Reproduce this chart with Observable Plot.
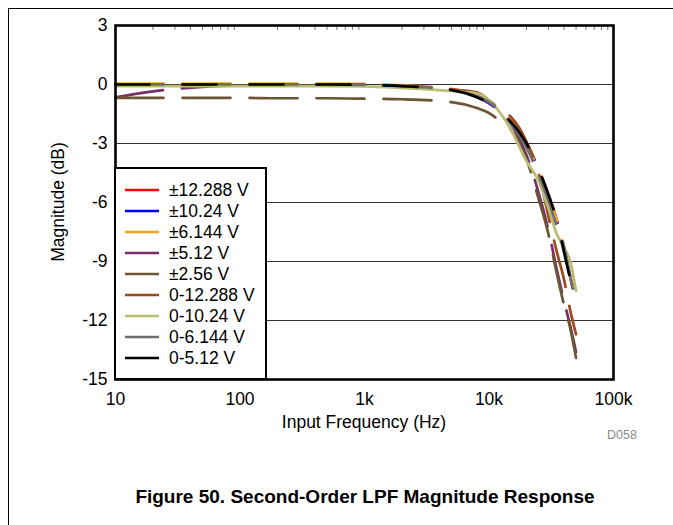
<!DOCTYPE html>
<html>
<head>
<meta charset="utf-8">
<script src="https://cdn.jsdelivr.net/npm/d3@7"></script>
<script src="https://cdn.jsdelivr.net/npm/@observablehq/plot@0.6"></script>
<style>
  html, body { margin: 0; padding: 0; background: #fff; }
  #wrap { position: relative; width: 673px; height: 525px; overflow: hidden; background: #fff;
          font-family: "Liberation Sans", Arial, sans-serif; color: #000; }
  #outer { position: absolute; left: 8px; top: 8px; width: 700px; height: 600px;
           border-left: 1px solid #000; border-top: 1px solid #000; }
  #chart { position: absolute; left: 0; top: 0; }
  .lbl { position: absolute; white-space: nowrap; }
  #legend { position: absolute; left: 114px; top: 167px; width: 153px; height: 213px; box-sizing: border-box;
            border: 2px solid #000; background: #fff; }
</style>
</head>
<body>
<div id="wrap">
  <div id="outer"></div>
  <div id="chart"></div>
  <div id="legend"></div>
  <div class="lbl" id="ylab" style="left:58px; top:202px; font-size:17.5px; transform: translate(-50%,-50%) rotate(-90deg);">Magnitude (dB)</div>
  <div class="lbl" id="xlab" style="left:364px; top:422px; font-size:17.5px; transform: translate(-50%,-50%);">Input Frequency (Hz)</div>
  <div class="lbl" id="code" style="left:622px; top:435px; font-size:12.5px; color:#8a8a8a; transform: translate(-50%,-50%);">D058</div>
  <div class="lbl" id="title" style="left:365px; top:497px; font-size:19px; font-weight:bold; transform: translate(-50%,-50%);">Figure 50. Second-Order LPF Magnitude Response</div>
</div>
<script>
// ---- data ----
const freq = [10, 20, 50, 100, 200, 500, 1000, 2000, 5000, 8000, 10000, 12500, 15000, 20000, 25000, 30000, 35000, 40000, 45000, 50000];

const seriesNames = ["±12.288 V", "±10.24 V", "±6.144 V", "±5.12 V", "±2.56 V", "0-12.288 V", "0-10.24 V", "0-6.144 V", "0-5.12 V"];
const seriesColors = ["#FF0000", "#0000FF", "#FFA21A", "#7A2E6B", "#6B5532", "#9C4A1C", "#B9BC71", "#6E6E6E", "#000000"];

const bip12288 = [0, 0, 0, 0, 0, 0, -0.02, -0.08, -0.28, -0.62, -0.95, -1.4, -1.9, -3.0, -4.3, -5.6, -6.9, -8.4, -9.8, -10.9];
const bip1024  = [0, 0, 0, 0, 0, 0, -0.02, -0.08, -0.28, -0.62, -0.95, -1.4, -1.9, -3.0, -4.3, -5.6, -6.9, -8.4, -9.8, -10.9];
const bip6144  = [0.05, 0.05, 0.05, 0.05, 0.05, 0.05, 0.03, -0.04, -0.22, -0.55, -0.85, -1.3, -1.85, -3.0, -4.3, -5.6, -6.9, -8.4, -9.8, -10.9];
const bip512   = [-0.65, -0.35, -0.12, -0.05, -0.02, 0, -0.02, -0.08, -0.28, -0.6, -0.9, -1.4, -2.0, -3.6, -5.5, -7.4, -9.4, -11.0, -12.3, -13.6];
const bip256   = [-0.68, -0.68, -0.68, -0.68, -0.7, -0.7, -0.72, -0.75, -0.9, -1.2, -1.45, -1.9, -2.3, -3.8, -5.8, -7.6, -9.6, -11.2, -12.4, -13.9];
const uni12288 = [0, 0, 0, 0, 0, 0, -0.02, -0.08, -0.25, -0.4, -0.8, -1.3, -1.65, -2.9, -4.5, -6.7, -8.5, -9.9, -11.5, -12.7];
const uni1024  = [-0.08, -0.08, -0.08, -0.08, -0.08, -0.08, -0.1, -0.18, -0.33, -0.45, -0.8, -1.5, -2.3, -3.9, -4.9, -6.3, -7.6, -8.3, -9.0, -10.5];
const uni6144  = [0, 0, 0, 0, 0, 0, -0.02, -0.08, -0.3, -0.6, -0.9, -1.4, -2.0, -3.2, -4.6, -5.9, -7.2, -8.2, -9.8, -11.3];
const uni512   = [0, 0, 0, 0, 0, 0, -0.02, -0.08, -0.28, -0.65, -0.95, -1.4, -1.9, -3.0, -4.3, -5.6, -6.9, -8.5, -9.9, -10.9];

const seriesValues = [bip12288, bip1024, bip6144, bip512, bip256, uni12288, uni1024, uni6144, uni512];
const seriesDash = ["48,19", "48,19", "48,19", "48,19", "48,19", "48,19", null, "48,19", "34,33"];

const xTicks = [10, 100, 1000, 10000, 100000];
const xTickLabels = ["10", "100", "1k", "10k", "100k"];
const yTicks = [3, 0, -3, -6, -9, -12, -15];
const gridTicks = [0, -3, -6, -9, -12];

// ---- build ----
const rows = [];
seriesNames.forEach((s, i) => freq.forEach((f, j) => rows.push({s, f, v: seriesValues[i][j]})));

const minorTicks = [];
for (let d = 10; d < 100000; d *= 10) for (let k = 2; k <= 9; k++) minorTicks.push(d * k);

const lineMarks = seriesNames.map((s, i) =>
  Plot.line(rows.filter(r => r.s === s), {
    x: "f", y: "v", stroke: seriesColors[i], strokeWidth: 2.7,
    strokeDasharray: seriesDash[i] || undefined, curve: "monotone-x"
  })
);

const chart = Plot.plot({
  width: 673, height: 445,
  marginLeft: 115, marginRight: 60, marginTop: 25, marginBottom: 66,
  x: {type: "log", domain: [10, 100000]},
  y: {domain: [-15, 3]},
  style: {fontFamily: "'Liberation Sans', Arial, sans-serif", fontSize: "17.5px", color: "#000", background: "transparent", overflow: "visible"},
  marks: [
    Plot.gridY(gridTicks, {stroke: "#000", strokeOpacity: 0.8, strokeWidth: 1}),
    Plot.axisX(xTicks, {tickSize: 0, tickPadding: 13, tickFormat: d => xTickLabels[xTicks.indexOf(d)], label: null, fontSize: 17.5}),
    Plot.axisX(minorTicks, {anchor: "top", tickSize: -4, tickFormat: () => "", label: null, stroke: "#777"}),
    Plot.axisY(yTicks, {tickSize: 0, tickPadding: 8, label: null, fontSize: 17.5, tickFormat: d => String(d)}),
    ...lineMarks,
    Plot.frame({stroke: "#000", strokeWidth: 2.6})
  ]
});
document.getElementById("chart").appendChild(chart);

// ---- legend ----
const ns = "http://www.w3.org/2000/svg";
const lsvg = document.createElementNS(ns, "svg");
lsvg.setAttribute("width", 149); lsvg.setAttribute("height", 209);
seriesNames.forEach((s, i) => {
  const y = 21 + i * 21;
  const ln = document.createElementNS(ns, "line");
  ln.setAttribute("x1", 9); ln.setAttribute("x2", 43); ln.setAttribute("y1", y); ln.setAttribute("y2", y);
  ln.setAttribute("stroke", seriesColors[i]); ln.setAttribute("stroke-width", 2.6);
  lsvg.appendChild(ln);
  const t = document.createElementNS(ns, "text");
  t.setAttribute("x", 53); t.setAttribute("y", y); t.setAttribute("dy", "0.36em");
  t.setAttribute("font-size", 17.5); t.setAttribute("font-family", "'Liberation Sans', Arial, sans-serif");
  t.textContent = s;
  lsvg.appendChild(t);
});
document.getElementById("legend").appendChild(lsvg);
</script>
</body>
</html>
